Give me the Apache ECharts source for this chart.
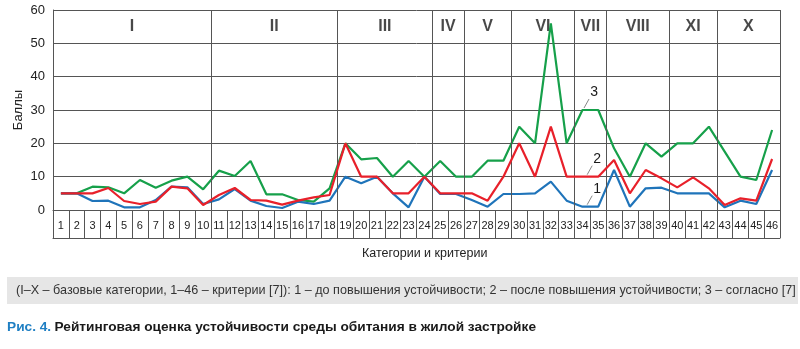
<!DOCTYPE html>
<html>
<head>
<meta charset="utf-8">
<script src="https://cdn.jsdelivr.net/npm/echarts@6/dist/echarts.min.js"></script>
<style>
  html, body { margin: 0; padding: 0; background: #fff; }
  #chart { width: 800px; height: 349px; }
</style>
</head>
<body>
<div id="chart"></div>
<script>
// Criteria numbers along the bottom row
const categories = ['1','2','3','4','5','6','7','8','9','10','11','12','13','14','15','16','17','18','19','20',
  '21','22','23','24','25','26','27','28','29','30','31','32','33','34','35','36','37','38','39','40',
  '41','42','43','44','45','46'];

// Base categories (header row) and the criteria boundaries between them
const sections = ['I','II','III','IV','V','VI','VII','VIII','XI','X'];
const sectionBounds = [0, 10, 18, 24, 26, 29, 33, 35, 39, 42, 46];

// 1 – before raising sustainability
const seriesBefore = [5,5,2.7,2.8,0.8,0.8,3,7,6.8,1.8, 3.2,6.3,2.8,1.2,0.6,2.5,1.8,2.8,
  10,8,10,5,0.8,10, 4.8,4.8, 3,1,4.8, 4.8,5,8.5,2.8, 1,1, 12,1,6.5,6.7, 5,5,5, 0.8,2.8,1.8,12];
// 2 – after raising sustainability
const seriesAfter = [5,5,5,6.6,2.7,1.8,2.5,7,6.5,1.5, 4.5,6.6,3,2.8,1.6,2.8,3.8,4.5,
  20,10,10,5,5,10, 5,5, 5,2.8,10, 20,10,25,10, 10,10, 15,5,12,9.5, 6.8,9.8,6.5, 1.5,3.5,2.8,15.3];
// 3 – according to [7]
const seriesRef = [5,5,7,6.8,5,9,6.7,8.8,10,6.2, 11.8,10.2,14.7,4.7,4.7,3,2.5,6.5,
  20,15.2,15.6,10,14.7,10, 14.7,10, 10,14.8,14.8, 25,20,56,20, 30,30, 18.5,10,20,16, 20,20,25, 17.5,10,9,24];

const yTicks = { min: 0, max: 60, interval: 10 };

// Callout labels: anchor [x on continuous axis, value], label text
const callouts = [
  [33.6, 30, '3'],
  [33.8, 10, '2'],
  [33.8, 1, '1']
];

const FONT = 'Liberation Sans, Arial, sans-serif';
const GRID_COLOR = '#555';
const COLORS = { before: '#1f74ba', after: '#e8202a', ref: '#16a04a' };

const sectionMarks = sections.map((s, i) => [(sectionBounds[i] + sectionBounds[i + 1]) / 2, 55, s]);

const chart = echarts.init(document.getElementById('chart'), null, { renderer: 'canvas' });

chart.setOption({
  backgroundColor: '#ffffff',
  animation: false,
  grid: { left: 53, top: 10, width: 727, height: 200, containLabel: false },
  xAxis: [
    {
      type: 'category', data: categories, boundaryGap: true, position: 'bottom',
      axisLine: { show: true, lineStyle: { color: GRID_COLOR, width: 1 } },
      axisTick: { show: true, interval: 0, inside: false, length: 28, lineStyle: { color: GRID_COLOR, width: 1 } },
      axisLabel: { interval: 0, fontSize: 11, margin: 10, color: '#222', fontFamily: FONT },
      splitLine: { show: false }
    },
    {
      type: 'value', min: 0, max: 46, show: false
    },
    {
      type: 'category', data: categories, boundaryGap: true, position: 'bottom', offset: 28,
      axisLine: { show: true, lineStyle: { color: GRID_COLOR, width: 1 } },
      axisTick: { show: false }, axisLabel: { show: false }, splitLine: { show: false }
    }
  ],
  yAxis: {
    type: 'value', min: yTicks.min, max: yTicks.max, interval: yTicks.interval,
    axisLine: { show: true, lineStyle: { color: GRID_COLOR, width: 1 } },
    axisTick: { show: false },
    axisLabel: { fontSize: 13, color: '#222', margin: 8, fontFamily: FONT },
    splitLine: { show: true, lineStyle: { color: GRID_COLOR, width: 1 } }
  },
  series: [
    {
      type: 'scatter', xAxisIndex: 1, yAxisIndex: 0, symbolSize: 0, silent: true,
      data: sectionMarks,
      label: {
        show: true, position: 'inside', formatter: p => p.data[2],
        fontSize: 16, fontWeight: 'bold', color: '#1a1a1a', fontFamily: FONT
      },
      markLine: {
        silent: true, symbol: 'none', animation: false,
        label: { show: false },
        lineStyle: { color: GRID_COLOR, width: 1, type: 'solid' },
        data: sectionBounds.map(v => ({ xAxis: v }))
      },
      z: 1
    },
    {
      name: '3', type: 'line', data: seriesRef, symbol: 'none',
      lineStyle: { color: COLORS.ref, width: 2.2 }, z: 3
    },
    {
      name: '1', type: 'line', data: seriesBefore, symbol: 'none',
      lineStyle: { color: COLORS.before, width: 2.2 }, z: 4
    },
    {
      name: '2', type: 'line', data: seriesAfter, symbol: 'none',
      lineStyle: { color: COLORS.after, width: 2.2 }, z: 5
    },
    {
      type: 'custom', xAxisIndex: 1, yAxisIndex: 0, silent: true, z: 6,
      data: callouts,
      renderItem: function (params, api) {
        const p = api.coord([api.value(0), api.value(1)]);
        return {
          type: 'group',
          children: [
            {
              type: 'line',
              shape: { x1: p[0], y1: p[1] - 2, x2: p[0] + 5, y2: p[1] - 11 },
              style: { stroke: '#888', lineWidth: 1 }
            },
            {
              type: 'text',
              style: {
                x: p[0] + 10, y: p[1] - 18, text: callouts[params.dataIndex][2],
                fontSize: 14, fill: '#1a1a1a', fontFamily: FONT,
                align: 'center', verticalAlign: 'middle'
              }
            }
          ]
        };
      }
    }
  ],
  graphic: [
    {
      // y-axis title
      type: 'text', x: 18, y: 110, rotation: Math.PI / 2,
      style: { text: 'Баллы', fontSize: 13, fill: '#222', fontFamily: FONT, align: 'center', verticalAlign: 'middle' }
    },
    {
      type: 'text', left: 362, top: 247,
      style: { text: 'Категории и критерии', fontSize: 12.5, fill: '#222', fontFamily: FONT }
    },
    {
      type: 'rect', shape: { x: 7, y: 277, width: 791, height: 27 },
      style: { fill: '#e6e6e6' }, z: -1
    },
    {
      type: 'text', left: 16, top: 284,
      style: {
        text: '(I–X – базовые категории, 1–46 – критерии [7]): 1 – до повышения устойчивости; 2 – после повышения устойчивости; 3 – согласно [7]',
        fontSize: 12.6, fill: '#333', fontFamily: FONT
      }
    },
    {
      type: 'text', left: 7, top: 320,
      style: {
        text: '{a|Рис. 4.} {b|Рейтинговая оценка устойчивости среды обитания в жилой застройке}',
        fontFamily: FONT,
        rich: {
          a: { fontSize: 13.7, fontWeight: 'bold', fill: '#1f7fc3', fontFamily: FONT },
          b: { fontSize: 13.7, fontWeight: 'bold', fill: '#1a1a1a', fontFamily: FONT }
        }
      }
    }
  ]
});
</script>
</body>
</html>
